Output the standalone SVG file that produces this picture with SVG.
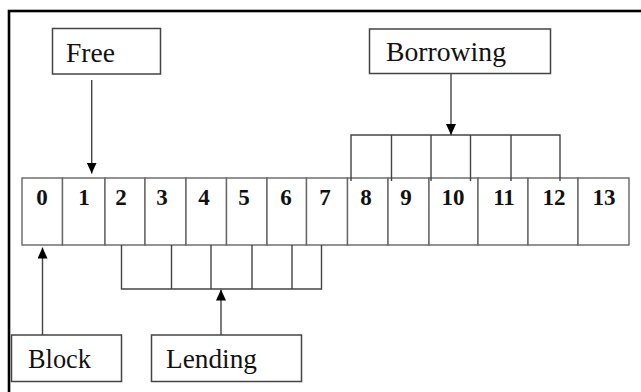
<svg xmlns="http://www.w3.org/2000/svg" width="641" height="392" viewBox="0 0 641 392">
<style>
.box{fill:#fff;stroke:#444;stroke-width:1.5}
.cell{fill:#fff;stroke:#666;stroke-width:1.4}
.lbl{font-family:"Liberation Serif","Times New Roman",serif;font-size:27px;fill:#111}
.num{font-family:"Liberation Serif","Times New Roman",serif;font-size:23px;font-weight:bold;fill:#111;text-anchor:middle}
.ln{fill:none;stroke:#444;stroke-width:1.4}
</style>
<defs>
<marker id="ah" markerUnits="userSpaceOnUse" markerWidth="11" markerHeight="10" refX="11" refY="5" orient="auto">
<path d="M0,0 L11,5 L0,10 z" fill="#000"/>
</marker>
</defs>
<rect x="0" y="0" width="641" height="392" fill="#fff"/>
<rect id="frame" x="9" y="11" width="700" height="500" fill="none" stroke="#000" stroke-width="2.6"/>

<g id="free"><rect class="box" x="52.5" y="28.5" width="108" height="45.5"/><text class="lbl" x="66" y="62" textLength="49" lengthAdjust="spacingAndGlyphs">Free</text></g>
<g id="borrowing"><rect class="box" x="369.5" y="29" width="181" height="44.5"/><text class="lbl" x="386" y="61" textLength="120" lengthAdjust="spacingAndGlyphs">Borrowing</text></g>
<g id="block"><rect class="box" x="11.5" y="335" width="110" height="46.5"/><text class="lbl" x="28" y="368" textLength="63" lengthAdjust="spacingAndGlyphs">Block</text></g>
<g id="lending"><rect class="box" x="151.5" y="335" width="150" height="46.5"/><text class="lbl" x="166" y="368" textLength="91" lengthAdjust="spacingAndGlyphs">Lending</text></g>

<g id="cells">
<g id="c0"><rect class="cell" x="22" y="178" width="40.5" height="67"/><text class="num" x="42" y="205">0</text></g>
<g id="c1"><rect class="cell" x="62.5" y="178" width="42.5" height="67"/><text class="num" x="84" y="205">1</text></g>
<g id="c2"><rect class="cell" x="105" y="178" width="40" height="67"/><text class="num" x="121" y="205">2</text></g>
<g id="c3"><rect class="cell" x="145" y="178" width="41" height="67"/><text class="num" x="162" y="205">3</text></g>
<g id="c4"><rect class="cell" x="186" y="178" width="40.5" height="67"/><text class="num" x="204" y="205">4</text></g>
<g id="c5"><rect class="cell" x="226.5" y="178" width="40.5" height="67"/><text class="num" x="244" y="205">5</text></g>
<g id="c6"><rect class="cell" x="267" y="178" width="39.5" height="67"/><text class="num" x="286" y="205">6</text></g>
<g id="c7"><rect class="cell" x="306.5" y="178" width="41" height="67"/><text class="num" x="325" y="205">7</text></g>
<g id="c8"><rect class="cell" x="347.5" y="178" width="40.5" height="67"/><text class="num" x="366" y="205">8</text></g>
<g id="c9"><rect class="cell" x="388" y="178" width="41" height="67"/><text class="num" x="406" y="205">9</text></g>
<g id="c10"><rect class="cell" x="429" y="178" width="49" height="67"/><text class="num" x="453" y="205">10</text></g>
<g id="c11"><rect class="cell" x="478" y="178" width="50" height="67"/><text class="num" x="504" y="205">11</text></g>
<g id="c12"><rect class="cell" x="528" y="178" width="50" height="67"/><text class="num" x="554" y="205">12</text></g>
<g id="c13"><rect class="cell" x="578" y="178" width="51" height="67"/><text class="num" x="604" y="205">13</text></g>
</g>

<g id="connectors">
<path class="ln" d="M351,181 V135 H560 V181 M391.5,135 V181 M431,135 V181 M470.5,135 V181 M511,135 V181"/>
<path class="ln" d="M121.5,245 V289 H321.5 V245 M171.5,245 V289 M211,245 V289 M252,245 V289 M292,245 V289"/>
<line class="ln" x1="91.7" y1="80" x2="91.7" y2="173.5" marker-end="url(#ah)"/>
<line class="ln" x1="451" y1="74" x2="451" y2="135" marker-end="url(#ah)"/>
<line class="ln" x1="42.5" y1="335" x2="42.5" y2="247.5" marker-end="url(#ah)"/>
<line class="ln" x1="221" y1="335" x2="221" y2="289.5" marker-end="url(#ah)"/>
</g>
</svg>
